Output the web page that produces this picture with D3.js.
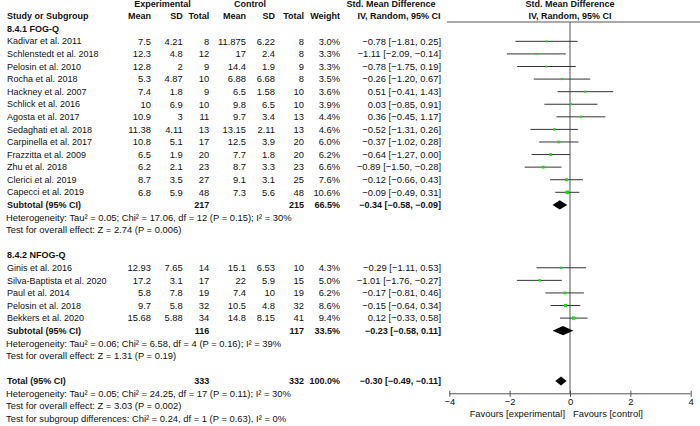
<!DOCTYPE html>
<html>
<head>
<meta charset="utf-8">
<script src="https://cdn.jsdelivr.net/npm/d3@7"></script>
<style>
  html, body { margin: 0; padding: 0; background: #fff; }
  svg { display: block; }
  text { font-family: "Liberation Sans", Arial, sans-serif; font-size: 9.4px; fill: #111; }
  .b { font-weight: bold; font-size: 9px; }
  .name { font-size: 9px; }
</style>
</head>
<body>
<svg id="chart" width="700" height="426"></svg>
<script>
// ---------------- DATA ----------------
const subgroups = ["8.4.1 FOG-Q", "8.4.2 NFOG-Q"];
const studies = [
  "Kadivar et al. 2011", "Schlenstedt et al. 2018", "Pelosin et al. 2010", "Rocha et al. 2018",
  "Hackney et al. 2007", "Schlick et al. 2016", "Agosta et al. 2017", "Sedaghati et al. 2018",
  "Carpinella et al. 2017", "Frazzitta et al. 2009", "Zhu et al. 2018", "Clerici et al. 2019",
  "Capecci et al. 2019",
  "Ginis et al. 2016", "Silva-Baptista et al. 2020", "Paul et al. 2014", "Pelosin et al. 2018",
  "Bekkers et al. 2020"
];
const studyGroup = [0,0,0,0,0,0,0,0,0,0,0,0,0, 1,1,1,1,1];
const expMean = ["7.5","12.3","12.8","5.3","7.4","10","10.9","11.38","10.8","6.5","6.2","8.7","6.8",
                 "12.93","17.2","5.8","9.7","15.68"];
const expSD   = ["4.21","4.8","2","4.87","1.8","6.9","3","4.11","5.1","1.9","2.1","3.5","5.9",
                 "7.65","3.1","7.8","5.8","5.88"];
const expN    = [8,12,9,10,9,10,11,13,17,20,23,27,48, 14,17,19,32,34];
const ctlMean = ["11.875","17","14.4","6.88","6.5","9.8","9.7","13.15","12.5","7.7","8.7","9.1","7.3",
                 "15.1","22","7.4","10.5","14.8"];
const ctlSD   = ["6.22","2.4","1.9","6.68","1.58","6.5","3.4","2.11","3.9","1.8","3.3","3.1","5.6",
                 "6.53","5.9","10","4.8","8.15"];
const ctlN    = [8,8,9,8,10,10,13,13,20,20,23,25,48, 10,15,19,32,41];
const weight  = [3.0,3.3,3.3,3.5,3.6,3.9,4.4,4.6,6.0,6.2,6.6,7.6,10.6, 4.3,5.0,6.2,8.6,9.4];
const smd     = [-0.78,-1.11,-0.78,-0.26,0.51,0.03,0.36,-0.52,-0.37,-0.64,-0.89,-0.12,-0.09,
                 -0.29,-1.01,-0.17,-0.15,0.12];
const ciLow   = [-1.81,-2.09,-1.75,-1.20,-0.41,-0.85,-0.45,-1.31,-1.02,-1.27,-1.50,-0.66,-0.49,
                 -1.11,-1.76,-0.81,-0.64,-0.33];
const ciHigh  = [0.25,-0.14,0.19,0.67,1.43,0.91,1.17,0.26,0.28,0.00,-0.28,0.43,0.31,
                 0.53,-0.27,0.46,0.34,0.58];

const subExpN   = [217, 116];
const subCtlN   = [215, 117];
const subWeight = [66.5, 33.5];
const subSmd    = [-0.34, -0.23];
const subLow    = [-0.58, -0.58];
const subHigh   = [-0.09, 0.11];
const subHet = [
  "Heterogeneity: Tau² = 0.05; Chi² = 17.06, df = 12 (P = 0.15); I² = 30%",
  "Heterogeneity: Tau² = 0.06; Chi² = 6.58, df = 4 (P = 0.16); I² = 39%"
];
const subTest = [
  "Test for overall effect: Z = 2.74 (P = 0.006)",
  "Test for overall effect: Z = 1.31 (P = 0.19)"
];

const totalExpN = 333, totalCtlN = 332, totalWeight = 100.0;
const totalSmd = -0.30, totalLow = -0.49, totalHigh = -0.11;
const totalNotes = [
  "Heterogeneity: Tau² = 0.05; Chi² = 24.25, df = 17 (P = 0.11); I² = 30%",
  "Test for overall effect: Z = 3.03 (P = 0.002)",
  "Test for subgroup differences: Chi² = 0.24, df = 1 (P = 0.63), I² = 0%"
];

const xTicks = [-4, -2, 0, 2, 4];
const favourLabels = ["Favours [experimental]", "Favours [control]"];

// ---------------- BUILD ROWS ----------------
const fmt2 = d3.format(".2f");
const ciStr = (m, l, h) => `${fmt2(m)} [${fmt2(l)}, ${fmt2(h)}]`;
const rows = [];
rows.push({type: "head1"});
rows.push({type: "head2"});
subgroups.forEach((g, gi) => {
  rows.push({type: "group", label: g});
  studies.forEach((s, i) => {
    if (studyGroup[i] === gi) rows.push({type: "study", i});
  });
  rows.push({type: "sub", gi});
  rows.push({type: "note", label: subHet[gi]});
  rows.push({type: "note", label: subTest[gi]});
  rows.push({type: "blank"});
});
rows.push({type: "total"});
totalNotes.forEach(t => rows.push({type: "note", label: t}));

// ---------------- SCALES ----------------
const svg = d3.select("#chart");
const y = d3.scaleLinear().domain([0, rows.length - 1]).range([3.6, 3.6 + (rows.length - 1) * 12.58]);
const x = d3.scaleLinear().domain([-4, 4]).range([449.3, 690.7]);
const sq = d3.scaleSqrt().domain([0, 10.6]).range([0, 3.6]);

const col = {study: 7, eMean: 151, eSD: 182.7, eN: 209.3, cMean: 246, cSD: 275, cN: 304, w: 340, ci: 441};

function txt(xp, yp, s, anchor, cls) {
  svg.append("text").attr("x", xp).attr("y", yp).attr("dy", "0.35em")
    .attr("text-anchor", anchor || "start").attr("class", cls || null).text(s);
}

const axisY = 393.8;
const headLineY = 22;

svg.append("line").attr("x1", 447).attr("x2", 700).attr("y1", headLineY).attr("y2", headLineY)
  .attr("stroke", "#555").attr("stroke-width", 1);
svg.append("line").attr("x1", x(0)).attr("x2", x(0)).attr("y1", headLineY).attr("y2", axisY)
  .attr("stroke", "#555").attr("stroke-width", 1);

rows.forEach((r, ri) => {
  const yy = y(ri);
  if (r.type === "head1") {
    txt(162.5, yy, "Experimental", "middle", "b");
    txt(250, yy, "Control", "middle", "b");
    txt(391, yy, "Std. Mean Difference", "middle", "b");
    txt(x(0), yy, "Std. Mean Difference", "middle", "b");
  } else if (r.type === "head2") {
    txt(col.study, yy, "Study or Subgroup", "start", "b");
    txt(col.eMean, yy, "Mean", "end", "b");
    txt(col.eSD, yy, "SD", "end", "b");
    txt(col.eN, yy, "Total", "end", "b");
    txt(col.cMean, yy, "Mean", "end", "b");
    txt(col.cSD, yy, "SD", "end", "b");
    txt(col.cN, yy, "Total", "end", "b");
    txt(col.w, yy, "Weight", "end", "b");
    txt(399, yy, "IV, Random, 95% CI", "middle", "b");
    txt(x(0), yy, "IV, Random, 95% CI", "middle", "b");
  } else if (r.type === "group") {
    txt(col.study, yy, r.label, "start", "b");
  } else if (r.type === "study") {
    const i = r.i;
    txt(col.study, yy, studies[i], "start", "name");
    txt(col.eMean, yy, expMean[i], "end");
    txt(col.eSD, yy, expSD[i], "end");
    txt(col.eN, yy, expN[i], "end");
    txt(col.cMean, yy, ctlMean[i], "end");
    txt(col.cSD, yy, ctlSD[i], "end");
    txt(col.cN, yy, ctlN[i], "end");
    txt(col.w, yy, weight[i].toFixed(1) + "%", "end");
    txt(col.ci, yy, ciStr(smd[i], ciLow[i], ciHigh[i]), "end");
    svg.append("line").attr("x1", x(ciLow[i])).attr("x2", x(ciHigh[i]))
      .attr("y1", yy).attr("y2", yy).attr("stroke", "#333").attr("stroke-width", 1);
    const s = sq(weight[i]);
    svg.append("rect").attr("x", x(smd[i]) - s / 2).attr("y", yy - s / 2)
      .attr("width", s).attr("height", s).attr("fill", "#1ed41e");
  } else if (r.type === "sub" || r.type === "total") {
    const isT = r.type === "total";
    const gi = r.gi;
    const eN = isT ? totalExpN : subExpN[gi];
    const cN = isT ? totalCtlN : subCtlN[gi];
    const w = isT ? totalWeight : subWeight[gi];
    const m = isT ? totalSmd : subSmd[gi];
    const lo = isT ? totalLow : subLow[gi];
    const hi = isT ? totalHigh : subHigh[gi];
    txt(col.study, yy, isT ? "Total (95% CI)" : "Subtotal (95% CI)", "start", "b");
    txt(col.eN, yy, eN, "end", "b");
    txt(col.cN, yy, cN, "end", "b");
    txt(col.w, yy, w.toFixed(1) + "%", "end", "b");
    txt(col.ci, yy, ciStr(m, lo, hi), "end", "b");
    const h = 4.6;
    svg.append("path")
      .attr("d", `M${x(lo)},${yy} L${x(m)},${yy - h} L${x(hi)},${yy} L${x(m)},${yy + h} Z`)
      .attr("fill", "#000");
  } else if (r.type === "note") {
    txt(6, yy, r.label, "start");
  }
});

// axis
const ax = svg.append("g").attr("transform", `translate(0,${axisY})`)
  .call(d3.axisBottom(x).tickValues(xTicks).tickSize(3).tickSizeOuter(0).tickFormat(d3.format("d")));
ax.attr("font-family", null).attr("font-size", null);
ax.select(".domain").attr("stroke", "#555").attr("d", `M${x(-4)},0H${x(4)}`);
ax.selectAll(".tick line").attr("y1", -3).attr("y2", 3).attr("stroke", "#555");
ax.selectAll(".tick text").attr("y", 5).style("fill", "#111");

txt(x(0) - 5, 413.3, favourLabels[0], "end");
txt(x(0) + 3, 413.3, favourLabels[1], "start");
</script>
</body>
</html>
